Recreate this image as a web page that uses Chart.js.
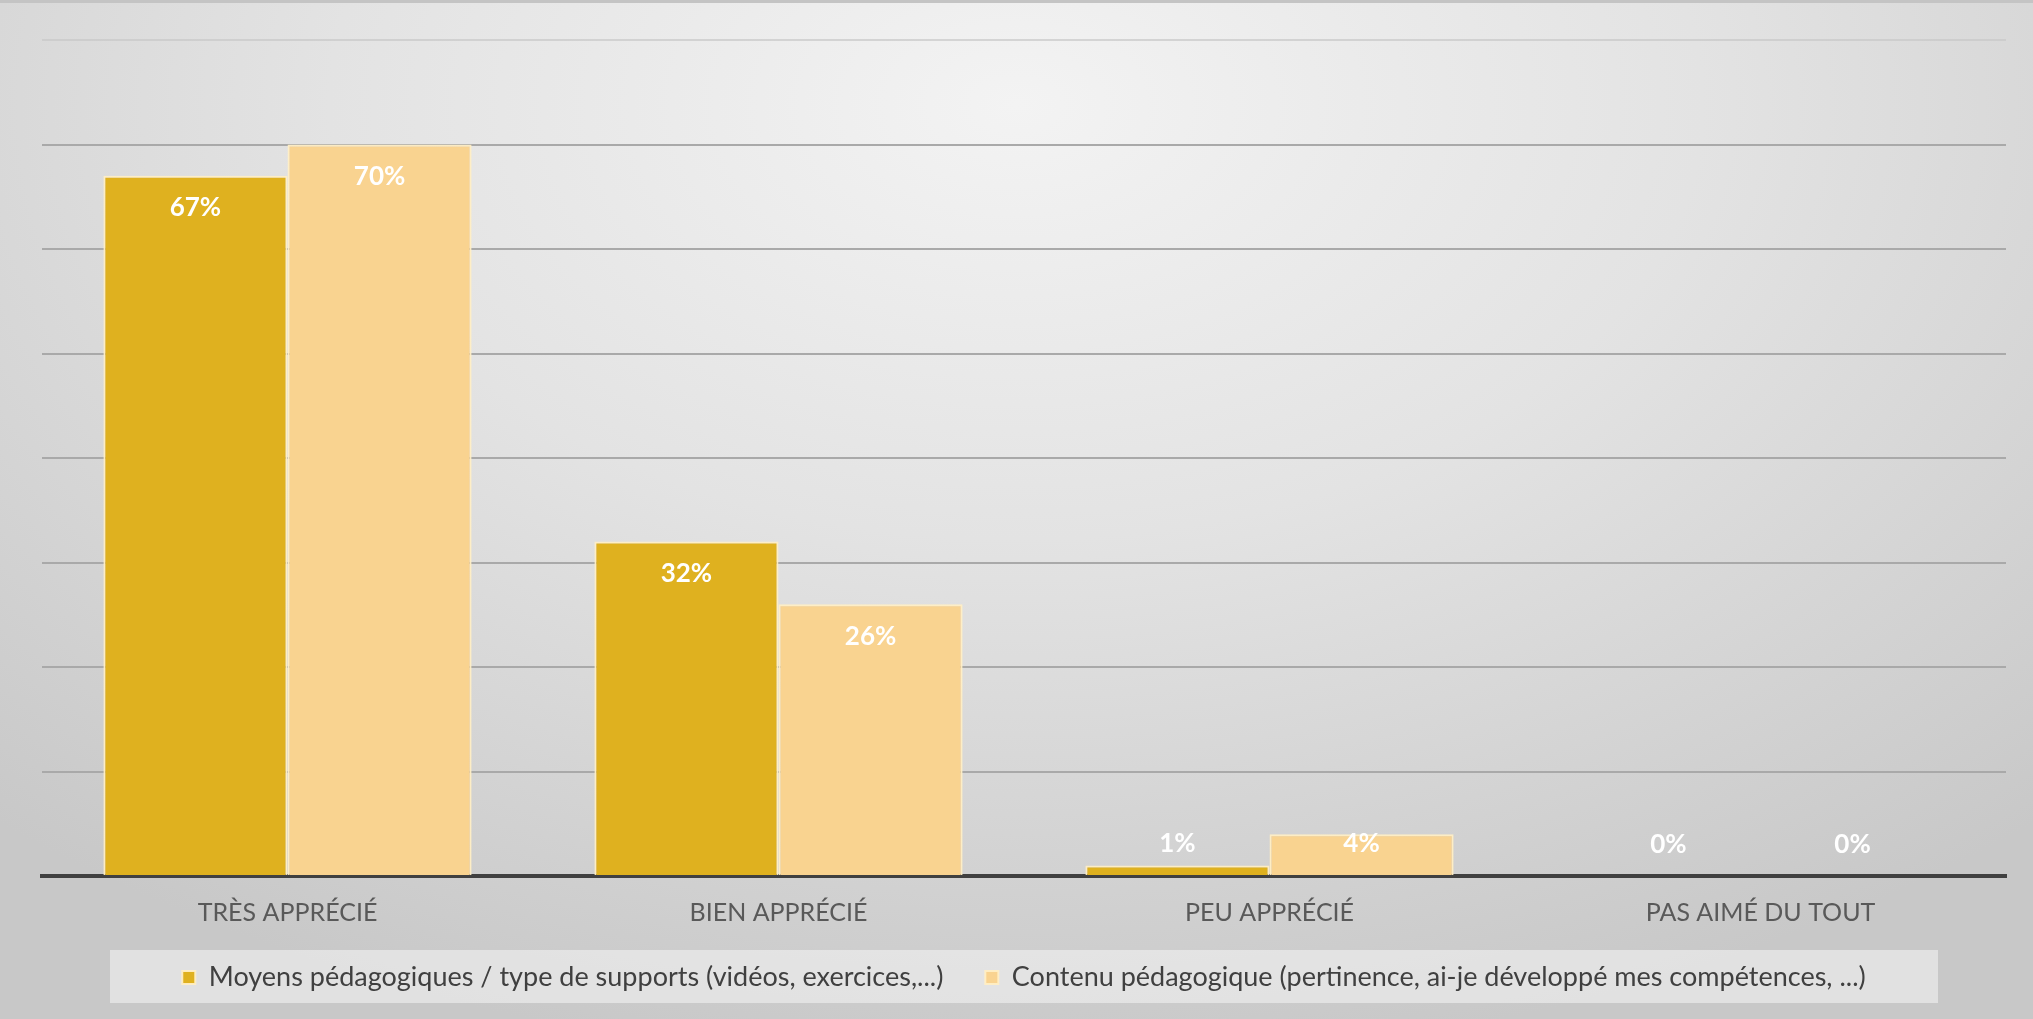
<!DOCTYPE html>
<html>
<head>
<meta charset="utf-8">
<script src="https://cdn.jsdelivr.net/npm/chart.js@4.4.1/dist/chart.umd.min.js"></script>
<style>
  html, body { margin: 0; padding: 0; }
  #wrap {
    position: relative;
    width: 2033px;
    height: 1019px;
    box-sizing: border-box;
    border-top: 3px solid #c4c4c4;
    background: radial-gradient(ellipse 75% 95% at 50% 10%, #f3f3f3 0%, #e3e3e3 45%, #c8c8c8 100%);
  }
  canvas { display: block; }
</style>
</head>
<body>
<div id="wrap"><canvas id="myChart" width="2033" height="1016"></canvas></div>
<script>
var categories = ['TRÈS APPRÉCIÉ', 'BIEN APPRÉCIÉ', 'PEU APPRÉCIÉ', 'PAS AIMÉ DU TOUT'];
var seriesNames = [
    'Moyens pédagogiques / type de supports (vidéos, exercices,...)',
    'Contenu pédagogique (pertinence, ai-je développé mes compétences, ...)'
];
var moyensValues = [67, 32, 1, 0];
var contenuValues = [70, 26, 4, 0];
var yTicks = [0, 10, 20, 30, 40, 50, 60, 70, 80];

var FONT = 'Lato, "Open Sans", sans-serif';

// étiquettes de valeur en haut de chaque barre
var valueLabels = {
    id: 'valueLabels',
    afterDatasetsDraw: function (chart) {
        var ctx = chart.ctx;
        ctx.save();
        ctx.fillStyle = '#ffffff';
        ctx.font = 'bold 26px ' + FONT;
        ctx.textAlign = 'center';
        ctx.textBaseline = 'middle';
        chart.data.datasets.forEach(function (ds, i) {
            var meta = chart.getDatasetMeta(i);
            meta.data.forEach(function (bar, j) {
                var y = Math.min(bar.y + 32, bar.base - 31);
                ctx.fillText(ds.data[j] + '%', bar.x, y);
            });
        });
        ctx.restore();
    }
};

// fond clair derrière la légende
var legendBox = {
    id: 'legendBox',
    beforeDraw: function (chart) {
        var lg = chart.legend;
        if (!lg || !lg.legendHitBoxes.length) return;
        var first = lg.legendHitBoxes[0];
        var ctx = chart.ctx;
        ctx.save();
        ctx.fillStyle = 'rgba(245,245,245,0.55)';
        ctx.fillRect(110, first.top - 14, 1828, 53);
        ctx.restore();
    }
};

var ctx = document.getElementById('myChart').getContext('2d');
var myChart = new Chart(ctx, {
    type: 'bar',
    data: {
        labels: categories,
        datasets: [{
            label: seriesNames[0],
            data: moyensValues,
            backgroundColor: '#dfb11f',
            borderColor: 'rgba(255,238,196,0.95)',
            borderWidth: 2,
            categoryPercentage: 0.75,
            barPercentage: 1
        }, {
            label: seriesNames[1],
            data: contenuValues,
            backgroundColor: '#f9d390',
            borderColor: 'rgba(255,238,196,0.95)',
            borderWidth: 2,
            categoryPercentage: 0.75,
            barPercentage: 1
        }]
    },
    options: {
        responsive: false,
        animation: false,
        layout: { padding: { left: 42, right: 27, top: 37, bottom: 18 } },
        plugins: {
            tooltip: { enabled: false },
            legend: {
                position: 'bottom',
                labels: {
                    color: '#404040',
                    font: { family: FONT, size: 27 },
                    boxWidth: 13,
                    boxHeight: 13,
                    padding: 42
                }
            }
        },
        scales: {
            x: {
                grid: { display: false },
                border: { color: '#404040', width: 4 },
                ticks: {
                    color: '#595959',
                    font: { family: FONT, size: 25 },
                    padding: 14
                },
                afterFit: function (scale) { scale.height = 46; }
            },
            y: {
                min: yTicks[0],
                max: yTicks[yTicks.length - 1],
                afterBuildTicks: function (scale) {
                    scale.ticks = yTicks.map(function (v) { return { value: v }; });
                },
                ticks: { display: false },
                border: { display: false },
                grid: {
                    lineWidth: 2,
                    drawTicks: false,
                    color: function (c) {
                        if (c.tick.value === 0) return 'rgba(0,0,0,0)';
                        if (c.tick.value === 80) return 'rgba(200,200,200,0.7)';
                        return '#a9a9a9';
                    }
                }
            }
        }
    },
    plugins: [valueLabels, legendBox]
});
</script>
</body>
</html>
